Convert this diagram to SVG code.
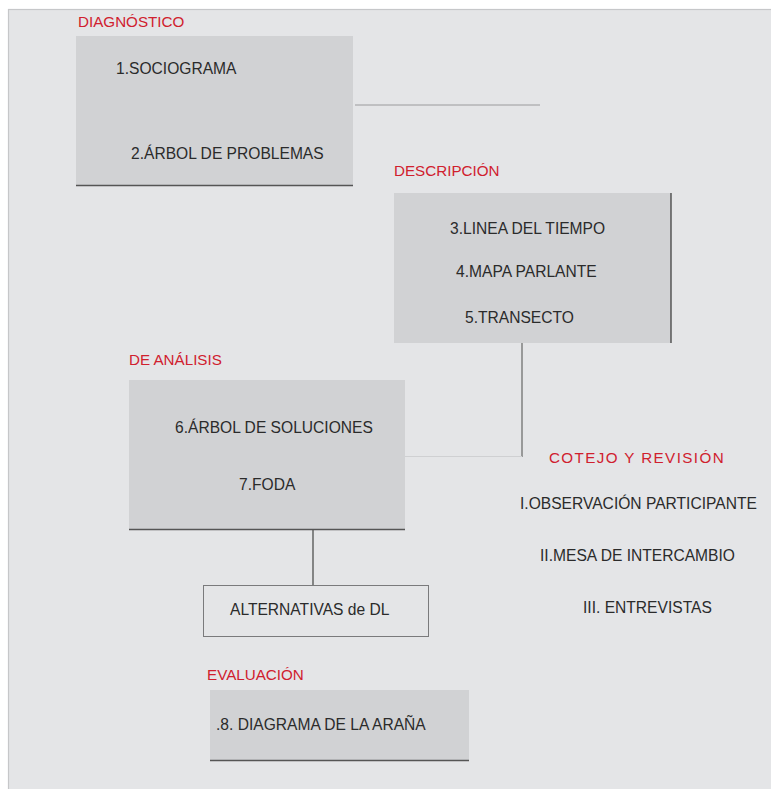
<svg xmlns="http://www.w3.org/2000/svg" width="771" height="789" viewBox="0 0 771 789">
<style>
.box{fill:#d1d2d4}
.edge{stroke:#555;stroke-width:1.3;fill:none}
.t{font-family:"Liberation Sans",Arial,sans-serif;font-size:15.6px;fill:#2b2b2b}
.h{font-family:"Liberation Sans",Arial,sans-serif;font-size:15.2px;fill:#d0202e}
</style>
<rect width="771" height="789" fill="#ffffff"/>
<rect x="8.5" y="9.5" width="770" height="790" fill="#e4e5e7" stroke="#c6c7c9" stroke-width="1.2"/>
<g id="connectors">
<line x1="355" y1="105" x2="540" y2="105" stroke="#9a9a9c" stroke-width="1"/>
<line x1="522" y1="343" x2="522" y2="457" stroke="#666" stroke-width="1.2"/>
<line x1="405" y1="456.5" x2="522" y2="456.5" stroke="#cfd0d2" stroke-width="1"/>
<line x1="313" y1="530" x2="313" y2="585" stroke="#444" stroke-width="1.2"/>
</g>
<g id="diagnostico">
<text class="h" x="78" y="27">DIAGNÓSTICO</text>
<rect class="box" x="76" y="36" width="277" height="150"/>
<line class="edge" x1="76" y1="185.5" x2="353" y2="185.5"/>
<text class="t" x="116" y="74">1.SOCIOGRAMA</text>
<text class="t" x="131" y="159">2.ÁRBOL DE PROBLEMAS</text>
</g>
<g id="descripcion">
<text class="h" x="394" y="176">DESCRIPCIÓN</text>
<rect class="box" x="394" y="193" width="277" height="150"/>
<line x1="671" y1="193" x2="671" y2="343" stroke="#333" stroke-width="1.2"/>
<text class="t" x="450" y="234">3.LINEA DEL TIEMPO</text>
<text class="t" x="456" y="277">4.MAPA PARLANTE</text>
<text class="t" x="465" y="323">5.TRANSECTO</text>
</g>
<g id="analisis">
<text class="h" x="129" y="365">DE ANÁLISIS</text>
<rect class="box" x="129" y="380" width="276" height="150"/>
<line class="edge" x1="129" y1="529.5" x2="405" y2="529.5"/>
<text class="t" x="175" y="433">6.ÁRBOL DE SOLUCIONES</text>
<text class="t" x="239" y="490">7.FODA</text>
</g>
<g id="alternativas">
<rect x="203.5" y="585.5" width="225" height="51" fill="#e4e5e7" stroke="#7a7a7c" stroke-width="1"/>
<text class="t" x="230" y="615">ALTERNATIVAS de DL</text>
</g>
<g id="cotejo">
<text class="h" x="549" y="463" letter-spacing="1.4">COTEJO Y REVISIÓN</text>
<text class="t" x="520" y="509">I.OBSERVACIÓN PARTICIPANTE</text>
<text class="t" x="540" y="561">II.MESA DE INTERCAMBIO</text>
<text class="t" x="583" y="613">III. ENTREVISTAS</text>
</g>
<g id="evaluacion">
<text class="h" x="207" y="680">EVALUACIÓN</text>
<rect class="box" x="210" y="690" width="259" height="71"/>
<line class="edge" x1="210" y1="760.5" x2="469" y2="760.5"/>
<text class="t" x="216" y="730">.8. DIAGRAMA DE LA ARAÑA</text>
</g>
</svg>
